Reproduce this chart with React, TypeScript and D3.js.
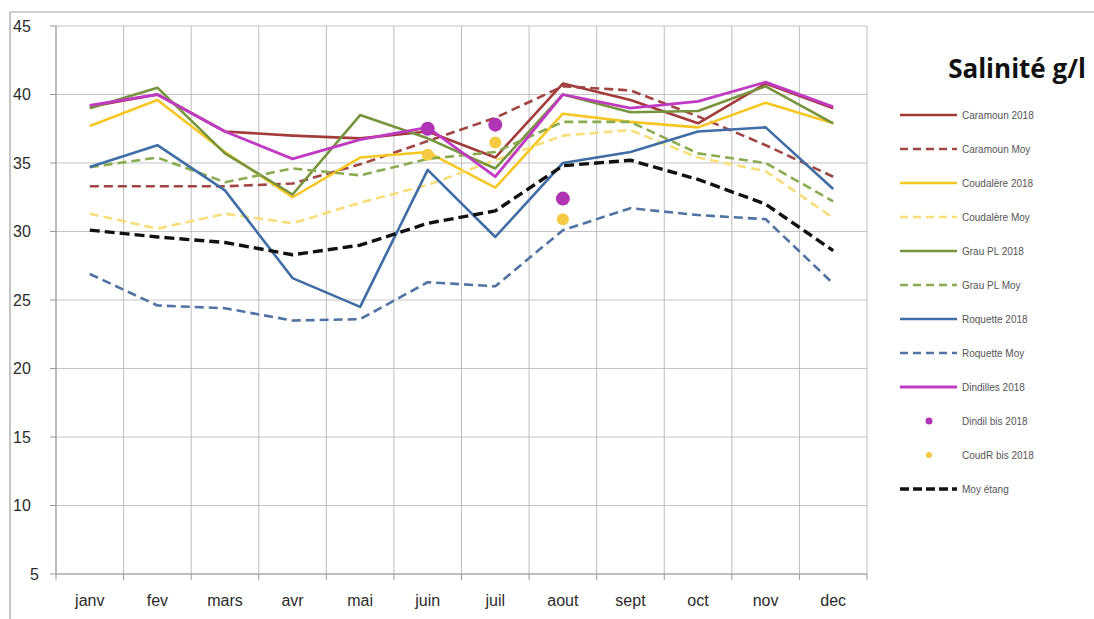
import React from "react";
import * as d3 from "d3";

const MONTHS = ["janv", "fev", "mars", "avr", "mai", "juin", "juil", "aout", "sept", "oct", "nov", "dec"];
const Y_TICKS = [5, 10, 15, 20, 25, 30, 35, 40, 45];

const caramoun2018 = [39.1, 40.0, 37.3, 37.0, 36.8, 37.3, 35.4, 40.8, 39.6, 37.9, 40.8, 39.0];
const caramounMoy = [33.3, 33.3, 33.3, 33.5, 34.9, 36.6, 38.3, 40.6, 40.3, 38.4, 36.3, 34.0];
const coudalere2018 = [37.7, 39.6, 35.8, 32.5, 35.4, 35.8, 33.2, 38.6, 38.0, 37.6, 39.4, 37.9];
const coudalereMoy = [31.3, 30.2, 31.3, 30.6, 32.1, 33.4, 35.2, 37.0, 37.4, 35.4, 34.4, 31.0];
const grau2018 = [39.0, 40.5, 35.7, 32.7, 38.5, 36.8, 34.6, 40.0, 38.7, 38.8, 40.6, 37.9];
const grauMoy = [34.7, 35.4, 33.6, 34.6, 34.1, 35.3, 35.8, 38.0, 38.0, 35.7, 35.0, 32.2];
const roquette2018 = [34.7, 36.3, 33.0, 26.6, 24.5, 34.5, 29.6, 35.0, 35.8, 37.3, 37.6, 33.1];
const roquetteMoy = [26.9, 24.6, 24.4, 23.5, 23.6, 26.3, 26.0, 30.1, 31.7, 31.2, 30.9, 26.2];
const dindilles2018 = [39.2, 40.0, 37.3, 35.3, 36.7, 37.6, 34.0, 40.0, 39.0, 39.5, 40.9, 39.1];
const dindilBis = [null, null, null, null, null, 37.5, 37.8, 32.4, null, null, null, null];
const coudRBis = [null, null, null, null, null, 35.6, 36.5, 30.9, null, null, null, null];
const moyEtang = [30.1, 29.6, 29.2, 28.3, 29.0, 30.6, 31.5, 34.8, 35.2, 33.8, 32.0, 28.6];

type Serie = {
  name: string;
  values: (number | null)[];
  color: string;
  kind: "line" | "dash" | "dot";
  width?: number;
  dash?: string;
  r?: number;
};

const SERIES: Serie[] = [
  { name: "Caramoun 2018", values: caramoun2018, color: "#a33b3b", kind: "line", width: 2.6 },
  { name: "Caramoun Moy", values: caramounMoy, color: "#a04444", kind: "dash", width: 2.6, dash: "9 5" },
  { name: "Coudalère 2018", values: coudalere2018, color: "#f6c622", kind: "line", width: 2.6 },
  { name: "Coudalère Moy", values: coudalereMoy, color: "#f8dd78", kind: "dash", width: 2.6, dash: "9 5" },
  { name: "Grau PL  2018", values: grau2018, color: "#76943c", kind: "line", width: 2.6 },
  { name: "Grau PL  Moy", values: grauMoy, color: "#8aab50", kind: "dash", width: 2.6, dash: "9 5" },
  { name: "Roquette 2018", values: roquette2018, color: "#3f6ea6", kind: "line", width: 2.6 },
  { name: "Roquette Moy", values: roquetteMoy, color: "#5073a3", kind: "dash", width: 2.6, dash: "9 5" },
  { name: "Dindilles 2018", values: dindilles2018, color: "#c03ac2", kind: "line", width: 2.8 },
  { name: "Dindil bis 2018", values: dindilBis, color: "#b035b5", kind: "dot", r: 7 },
  { name: "CoudR bis 2018", values: coudRBis, color: "#f6c943", kind: "dot", r: 6 },
  { name: "Moy étang", values: moyEtang, color: "#111111", kind: "dash", width: 3.4, dash: "10 5" },
];

const W = 1094;
const H = 619;
const PLOT = { left: 56, right: 867, top: 26, bottom: 574 };
const AXIS_FONT = "'Liberation Sans Narrow', 'Liberation Sans', Arial, sans-serif";

export default function App() {
  const x = d3.scaleBand<string>().domain(MONTHS).range([PLOT.left, PLOT.right]);
  const y = d3.scaleLinear().domain([5, 45]).range([PLOT.bottom, PLOT.top]);
  const cx = (m: string) => (x(m) ?? 0) + x.bandwidth() / 2;

  const line = d3
    .line<number | null>()
    .defined((d) => d != null)
    .x((_, i) => cx(MONTHS[i]))
    .y((d) => y(d as number));

  const bounds = MONTHS.map((m) => x(m) ?? 0).concat([PLOT.right]);

  // legend layout
  const LEG_X = 900;
  const LEG_Y0 = 115;
  const LEG_STEP = 34;

  return (
    <svg
      width={W}
      height={H}
      style={{ position: "absolute", left: 0, top: 0, background: "#fff", display: "block" }}
    >
      {/* outer frame */}
      <line x1={10} y1={12} x2={W} y2={12} stroke="#a0a0a0" strokeWidth={1.2} />
      <line x1={10} y1={12} x2={10} y2={H} stroke="#a0a0a0" strokeWidth={1.2} />

      {/* horizontal gridlines */}
      <g>
        {Y_TICKS.map((t) => (
          <line key={t} x1={PLOT.left} x2={PLOT.right} y1={y(t)} y2={y(t)} stroke="#c4c4c4" strokeWidth={1} />
        ))}
      </g>
      {/* vertical gridlines */}
      <g>
        {bounds.map((b, i) => (
          <line key={i} x1={b} x2={b} y1={PLOT.top} y2={PLOT.bottom} stroke="#bdbdbd" strokeWidth={1} />
        ))}
      </g>
      {/* axes */}
      <line x1={PLOT.left} x2={PLOT.left} y1={PLOT.top} y2={PLOT.bottom} stroke="#9a9a9a" strokeWidth={1} />
      <line x1={PLOT.left} x2={PLOT.right} y1={PLOT.bottom} y2={PLOT.bottom} stroke="#9a9a9a" strokeWidth={1} />
      {Y_TICKS.map((t) => (
        <line key={"yt" + t} x1={PLOT.left - 6} x2={PLOT.left} y1={y(t)} y2={y(t)} stroke="#9a9a9a" />
      ))}
      {bounds.map((b, i) => (
        <line key={"xt" + i} x1={b} x2={b} y1={PLOT.bottom} y2={PLOT.bottom + 6} stroke="#9a9a9a" />
      ))}

      {/* y labels */}
      <g fontFamily={AXIS_FONT} fontSize={16} fill="#2b2b2b">
        {Y_TICKS.map((t) => (
          <text key={"yl" + t} x={t < 10 ? 30 : 13} y={y(t)} dy="0.35em">
            {t}
          </text>
        ))}
      </g>
      {/* x labels */}
      <g fontFamily={AXIS_FONT} fontSize={16} fill="#2b2b2b" textAnchor="middle">
        {MONTHS.map((m) => (
          <text key={m} x={cx(m)} y={606}>
            {m}
          </text>
        ))}
      </g>

      {/* series */}
      <g>
        {SERIES.map((s) =>
          s.kind === "dot" ? (
            <g key={s.name}>
              {s.values.map((v, i) =>
                v == null ? null : (
                  <circle key={i} cx={cx(MONTHS[i])} cy={y(v)} r={s.r} fill={s.color} />
                )
              )}
            </g>
          ) : (
            <path
              key={s.name}
              d={line(s.values) ?? ""}
              fill="none"
              stroke={s.color}
              strokeWidth={s.width}
              strokeDasharray={s.dash}
              strokeLinejoin="round"
            />
          )
        )}
      </g>

      {/* legend */}
      <text
        x={1017}
        y={78}
        textAnchor="middle"
        fontFamily="'Open Sans', 'Liberation Sans', sans-serif"
        fontWeight="bold"
        fontSize={26}
        fill="#111"
      >
        Salinité g/l
      </text>
      <g fontFamily="'Liberation Sans', Arial, sans-serif" fontSize={10} fill="#555">
        {SERIES.map((s, i) => {
          const ly = LEG_Y0 + i * LEG_STEP;
          return (
            <g key={"lg" + s.name}>
              {s.kind === "dot" ? (
                <circle cx={LEG_X + 29} cy={ly} r={s.r! * 0.5} fill={s.color} />
              ) : (
                <line
                  x1={LEG_X}
                  x2={LEG_X + 57}
                  y1={ly}
                  y2={ly}
                  stroke={s.color}
                  strokeWidth={s.width}
                  strokeDasharray={s.dash ? (s.kind === "dash" && s.color === "#111111" ? "9 4" : "8 5") : undefined}
                />
              )}
              <text x={LEG_X + 62} y={ly} dy="0.35em">
                {s.name}
              </text>
            </g>
          );
        })}
      </g>
    </svg>
  );
}
